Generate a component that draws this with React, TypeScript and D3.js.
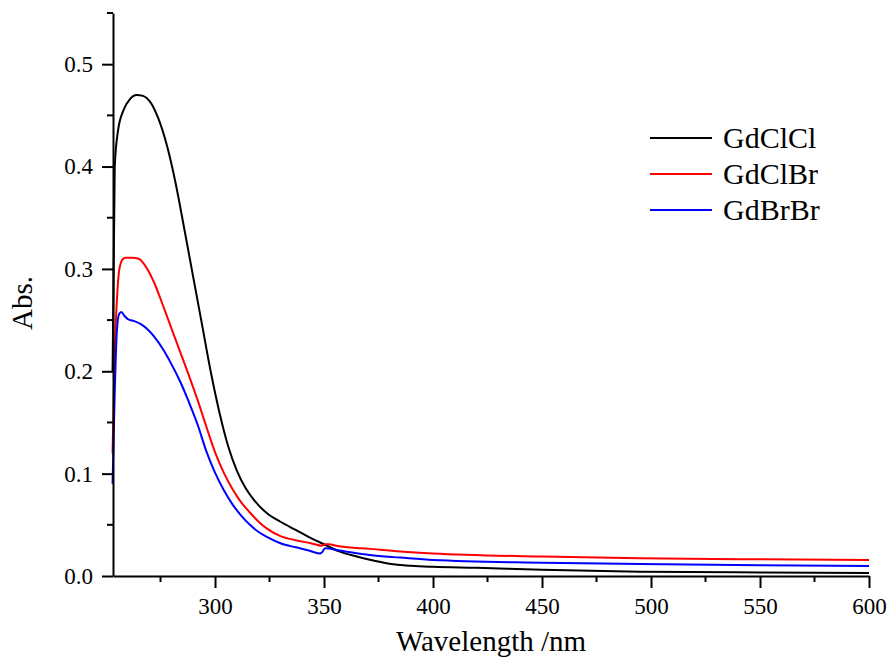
import React, { useRef, useEffect } from "react";
import * as d3 from "d3";

// absorption spectra (wavelength in nm, absorbance)
const gdClClWl = [253, 254, 255.5, 258, 261, 264, 267, 270, 274, 278, 282, 286, 290, 294, 298, 302, 306, 310, 314, 318, 324, 330, 337, 344, 350, 357, 365, 371, 380, 390, 400, 420, 450, 495, 550, 600];
const gdClClAbs = [0.2, 0.4, 0.435, 0.455, 0.466, 0.47, 0.469, 0.464, 0.447, 0.42, 0.383, 0.338, 0.292, 0.246, 0.2, 0.16, 0.127, 0.103, 0.086, 0.074, 0.061, 0.053, 0.045, 0.037, 0.031, 0.024, 0.019, 0.0158, 0.012, 0.01, 0.009, 0.008, 0.006, 0.0042, 0.0035, 0.003];

const gdClBrWl = [253, 254, 255, 256, 257.5, 259, 262, 265, 268, 272, 276, 280, 284, 288, 292, 296, 300, 304, 308, 312, 316, 320, 324, 330, 337, 344, 349, 350.5, 352, 357, 371, 385, 400, 450, 495, 550, 600];
const gdClBrAbs = [0.12, 0.22, 0.27, 0.298, 0.309, 0.311, 0.311, 0.31, 0.303, 0.287, 0.265, 0.242, 0.219, 0.196, 0.172, 0.146, 0.121, 0.101, 0.085, 0.072, 0.062, 0.053, 0.046, 0.039, 0.035, 0.032, 0.0295, 0.031, 0.031, 0.029, 0.0265, 0.024, 0.022, 0.019, 0.0173, 0.0163, 0.0156];

const gdBrBrWl = [253, 254, 255, 256, 257, 258.5, 260, 263, 266, 269, 272, 276, 280, 284, 288, 292, 296, 300, 304, 308, 312, 316, 320, 324, 330, 337, 343, 348, 349, 350.5, 357, 371, 385, 400, 450, 495, 550, 600];
const gdBrBrAbs = [0.09, 0.18, 0.24, 0.256, 0.258, 0.254, 0.251, 0.249, 0.246, 0.241, 0.234, 0.222, 0.207, 0.19, 0.17, 0.148, 0.122, 0.101, 0.084, 0.07, 0.059, 0.05, 0.043, 0.038, 0.032, 0.028, 0.025, 0.022, 0.023, 0.027, 0.025, 0.0205, 0.018, 0.0156, 0.013, 0.0117, 0.0105, 0.0097];

const seriesNames = ["GdClCl", "GdClBr", "GdBrBr"];
const seriesColors = ["#000000", "#ff0000", "#0000ff"];

const xTicks = [300, 350, 400, 450, 500, 550, 600];
const xMinorTicks = [275, 325, 375, 425, 475, 525, 575];
const yTicks = [0.0, 0.1, 0.2, 0.3, 0.4, 0.5];
const yMinorTicks = [0.05, 0.15, 0.25, 0.35, 0.45, 0.55];

const App = () => {
  const svgRef = useRef(null);
  const width = 891;
  const height = 659;

  useEffect(() => {
    document.body.style.margin = "0";
    const margin = { top: 13, right: 22, bottom: 83, left: 113 };
    const font = "'Liberation Serif', 'Times New Roman', serif";

    const x = d3
      .scaleLinear()
      .domain([253.2, 600])
      .range([margin.left, width - margin.right]);
    const y = d3
      .scaleLinear()
      .domain([0, 0.55])
      .range([height - margin.bottom, margin.top]);

    const svg = d3.select(svgRef.current);
    svg.selectAll("*").remove();

    const series = [
      { wl: gdClClWl, abs: gdClClAbs },
      { wl: gdClBrWl, abs: gdClBrAbs },
      { wl: gdBrBrWl, abs: gdBrBrAbs },
    ];

    const line = d3
      .line()
      .x((d) => x(d[0]))
      .y((d) => y(d[1]))
      .curve(d3.curveMonotoneX);

    // black first so red / blue sit on top like the original
    series.forEach((s, i) => {
      svg
        .append("path")
        .datum(s.wl.map((w, j) => [w, s.abs[j]]))
        .attr("fill", "none")
        .attr("stroke", seriesColors[i])
        .attr("stroke-width", 2)
        .attr("stroke-linejoin", "round")
        .attr("d", line);
    });

    // x axis
    const xAxis = svg
      .append("g")
      .attr("transform", `translate(0,${y(0)})`)
      .call(d3.axisBottom(x).tickValues(xTicks).tickSize(12).tickSizeOuter(0).tickPadding(10));
    xAxis
      .append("g")
      .selectAll("line")
      .data(xMinorTicks)
      .join("line")
      .attr("x1", (d) => x(d))
      .attr("x2", (d) => x(d))
      .attr("y1", 0)
      .attr("y2", 6)
      .attr("stroke", "#000")
      .attr("stroke-width", 2);

    // y axis
    const yAxis = svg
      .append("g")
      .attr("transform", `translate(${x(253.2)},0)`)
      .call(
        d3
          .axisLeft(y)
          .tickValues(yTicks)
          .tickFormat(d3.format(".1f"))
          .tickSize(11)
          .tickSizeOuter(0)
          .tickPadding(9)
      );
    yAxis
      .append("g")
      .selectAll("line")
      .data(yMinorTicks)
      .join("line")
      .attr("x1", 0)
      .attr("x2", -6)
      .attr("y1", (d) => y(d))
      .attr("y2", (d) => y(d))
      .attr("stroke", "#000")
      .attr("stroke-width", 2);

    [xAxis, yAxis].forEach((g) => {
      g.select(".domain").attr("stroke-width", 2);
      g.selectAll(".tick line").attr("stroke-width", 2);
      g.selectAll(".tick text")
        .attr("font-family", font)
        .attr("font-size", 23)
        .attr("fill", "#000");
    });

    // axis titles
    svg
      .append("text")
      .attr("x", (x(253.2) + x(600)) / 2)
      .attr("y", 651)
      .attr("text-anchor", "middle")
      .attr("font-family", font)
      .attr("font-size", 29)
      .text("Wavelength /nm");

    svg
      .append("text")
      .attr("transform", "translate(32,303) rotate(-90)")
      .attr("text-anchor", "middle")
      .attr("font-family", font)
      .attr("font-size", 29)
      .text("Abs.");

    // legend
    const legend = svg.append("g").attr("transform", "translate(650,148)");
    seriesNames.forEach((name, i) => {
      const row = legend.append("g").attr("transform", `translate(0,${i * 36})`);
      row
        .append("line")
        .attr("x1", 0)
        .attr("x2", 62)
        .attr("y1", -10)
        .attr("y2", -10)
        .attr("stroke", seriesColors[i])
        .attr("stroke-width", 2);
      row
        .append("text")
        .attr("x", 73)
        .attr("y", 0)
        .attr("font-family", font)
        .attr("font-size", 30)
        .text(name);
    });
  }, []);

  return <svg ref={svgRef} width={width} height={height} style={{ display: "block" }}></svg>;
};

export default App;
